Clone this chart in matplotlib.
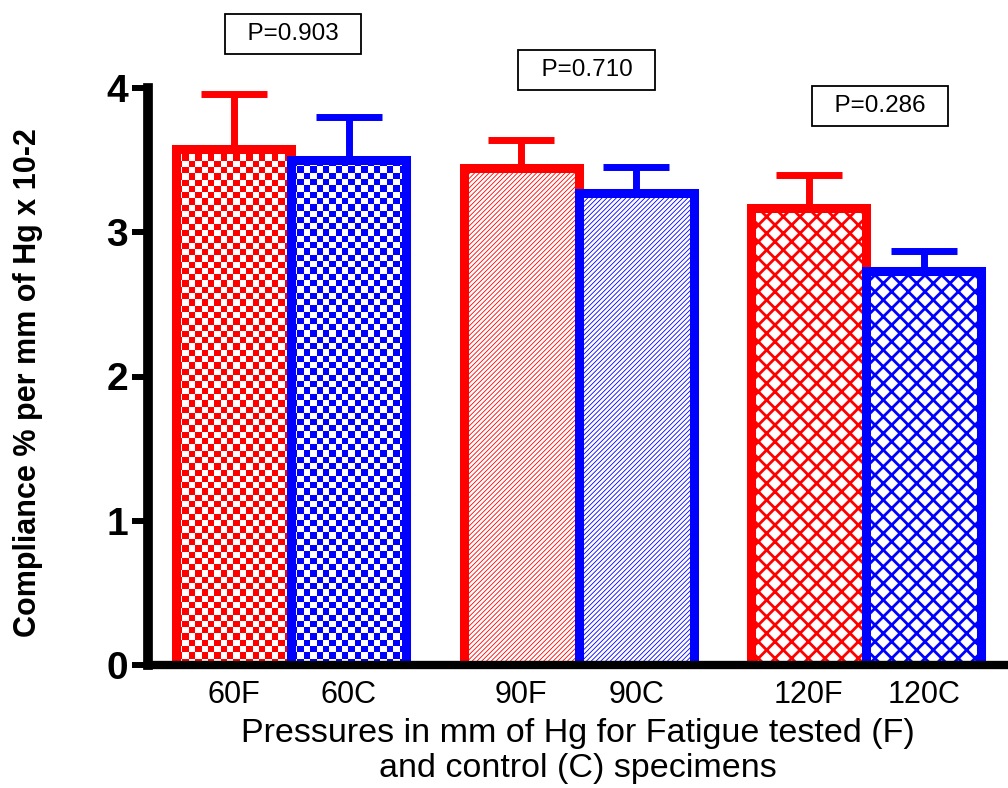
import numpy as np
import matplotlib
import matplotlib.pyplot as plt

# compliance values (mean and upper error)
labels = ['60F', '60C', '90F', '90C', '120F', '120C']
means = [3.58, 3.50, 3.445, 3.27, 3.17, 2.73]
errors = [0.38, 0.30, 0.195, 0.18, 0.23, 0.14]
p_labels = ['P=0.903', 'P=0.710', 'P=0.286']

RED = '#ff0000'
BLUE = '#0000ff'
colors = [RED, BLUE, RED, BLUE, RED, BLUE]
fills = ['checker', 'checker', '///////', '///////', 'xx', 'xx']
hatch_widths = [0, 0, 0.6, 0.6, 2.0, 2.0]

plt.rcParams['font.family'] = ['Liberation Sans', 'DejaVu Sans']

fig = plt.figure(figsize=(10.08, 7.88), dpi=100)
ax = fig.add_axes([148 / 1008, 123 / 788, 860 / 1008, 577 / 788])

# two bars per pressure group
xs = np.array([g * 2.5 + k for g in range(3) for k in (0, 1)], dtype=float)
ax.set_xlim(-0.746, 6.733)
ax.set_ylim(0, 4)
ax.set_autoscale_on(False)

# error bars (upper only), behind the bars
for i in range(6):
    ax.errorbar(xs[i], means[i], yerr=[[0], [errors[i]]], fmt='none',
                ecolor=colors[i], elinewidth=5, capsize=23.75, capthick=5,
                zorder=2)

for i in range(6):
    checker = fills[i] == 'checker'
    if not checker:
        plt.rcParams['hatch.linewidth'] = hatch_widths[i]
    bar = ax.bar(xs[i], means[i], width=1.0,
                 facecolor='none' if checker else 'white',
                 edgecolor=colors[i], linewidth=6.5,
                 hatch=None if checker else fills[i], zorder=3)[0]
    if not checker and hasattr(bar, 'set_hatch_linewidth'):
        bar.set_hatch_linewidth(hatch_widths[i])
    if checker:
        # checkerboard fill, clipped to the bar
        bb = bar.get_window_extent()
        nx = max(1, int(round(bb.width / 6.3)))
        ny = max(1, int(round(bb.height / 6.3)))
        grid = np.indices((ny, nx)).sum(axis=0) % 2
        rgb = np.ones((ny, nx, 3))
        rgb[grid == 1] = matplotlib.colors.to_rgb(colors[i])
        im = ax.imshow(rgb, extent=(xs[i] - 0.5, xs[i] + 0.5, 0, means[i]),
                       origin='lower', aspect='auto',
                       interpolation='nearest', zorder=2.5)
        im.set_clip_path(bar)

ax.set_xlim(-0.746, 6.733)
ax.set_ylim(0, 4)

for s in ['top', 'right']:
    ax.spines[s].set_visible(False)
ax.spines['left'].set_linewidth(7)
ax.spines['bottom'].set_linewidth(6)
for s in ['left', 'bottom']:
    ax.spines[s].set_zorder(4)

ax.set_yticks([0, 1, 2, 3, 4])
ax.tick_params(axis='y', length=11.5, width=4.3, pad=3, labelsize=28,
               direction='out')
for t in ax.get_yticklabels():
    t.set_fontweight('bold')
ax.set_xticks(xs, labels)
ax.tick_params(axis='x', length=0, pad=11, labelsize=22)

ax.set_xlabel('Pressures in mm of Hg for Fatigue tested (F)\nand control (C) specimens',
              fontsize=24.5, linespacing=1.15)
ax.xaxis.set_label_coords(0.5, -0.092)
ax.set_ylabel('Compliance % per mm of Hg x 10-2', fontsize=22,
              fontweight='bold')
ax.yaxis.set_label_coords(-0.122, 0.49)

# P value boxes above each group
group_centers = xs[::2] + 0.5
p_offsets = [0.015, 0.07, 0.12]
p_heights = [4.374, 4.125, 3.875]
for gc, dx, h, p in zip(group_centers, p_offsets, p_heights, p_labels):
    ax.text(gc + dx, h, '  ' + p + '  ', ha='center', va='center',
            fontsize=17.5,
            bbox=dict(boxstyle='square,pad=0.38', fc='white', ec='black',
                      lw=1.3),
            clip_on=False, zorder=6)

fig.savefig('out.png', dpi=100)
